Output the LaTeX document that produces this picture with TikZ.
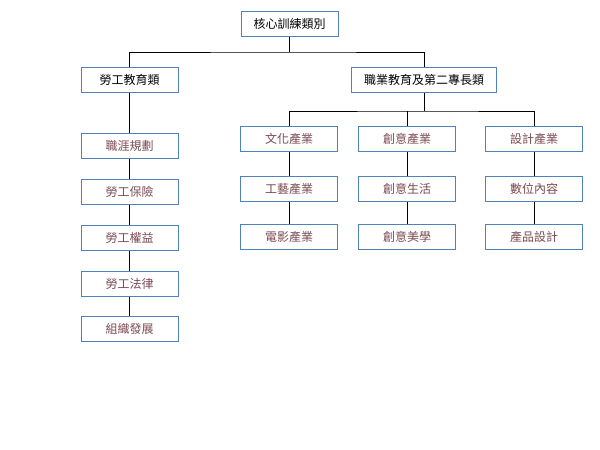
\documentclass[tikz,border=0pt]{standalone}
\usepackage{fontspec}
\newfontfamily\cjk{Noto Sans CJK TC}
\definecolor{boxblue}{HTML}{4F81BD}
\definecolor{leaftext}{HTML}{7A4A52}
\begin{document}
\begin{tikzpicture}[x=1pt,y=-1pt,
  box/.style={draw=boxblue,line width=1pt,fill=white,minimum width=97pt,minimum height=25pt,inner sep=0pt,font=\cjk\fontsize{12}{14}\selectfont},
  headbox/.style={box,text=black},
  leafbox/.style={box,text=leaftext},
  conn/.style={draw=black,line width=0.8pt}]
\useasboundingbox (0,0) rectangle (600,450);
\fill[white] (0,0) rectangle (600,450);
% top
\node[headbox] (root) at (289.5,23.5) {核心訓練類別};
\node[headbox] (labor) at (129.5,79.5) {勞工教育類};
\node[headbox,minimum width=145pt] (voc) at (424,79.5) {職業教育及第二專長類};
% left leaves
\node[leafbox] (l1) at (129.5,146) {職涯規劃};
\node[leafbox] (l2) at (129.5,191.5) {勞工保險};
\node[leafbox] (l3) at (129.5,238) {勞工權益};
\node[leafbox] (l4) at (129.5,284) {勞工法律};
\node[leafbox] (l5) at (129.5,328.5) {組織發展};
% right groups
\node[leafbox] (c1) at (289,139) {文化產業};
\node[leafbox] (c2) at (407,139) {創意產業};
\node[leafbox] (c3) at (534,139) {設計產業};
\node[leafbox] (c1a) at (289,189) {工藝產業};
\node[leafbox] (c1b) at (289,237) {電影產業};
\node[leafbox] (c2a) at (407,189) {創意生活};
\node[leafbox] (c2b) at (407,237) {創意美學};
\node[leafbox] (c3a) at (534,189) {數位內容};
\node[leafbox] (c3b) at (534,237) {產品設計};
% connectors
\coordinate (j1) at (289.5,52);
\coordinate (j2) at (424,111);
\draw[conn] (root.south) -- (j1);
\draw[conn] (labor.north) |- (j1) -| (voc.north);
\draw[conn] (voc.south) -- (j2);
\draw[conn] (c1.north) |- (j2) -| (c3.north);
\draw[conn] (c2.north) -- (c2.north |- j2);
\draw[conn] (labor) -- (l1);
\draw[conn] (l1) -- (l2);
\draw[conn] (l2) -- (l3);
\draw[conn] (l3) -- (l4);
\draw[conn] (l4) -- (l5);
\draw[conn] (c1) -- (c1a);
\draw[conn] (c1a) -- (c1b);
\draw[conn] (c2) -- (c2a);
\draw[conn] (c2a) -- (c2b);
\draw[conn] (c3) -- (c3a);
\draw[conn] (c3a) -- (c3b);
\end{tikzpicture}
\end{document}
